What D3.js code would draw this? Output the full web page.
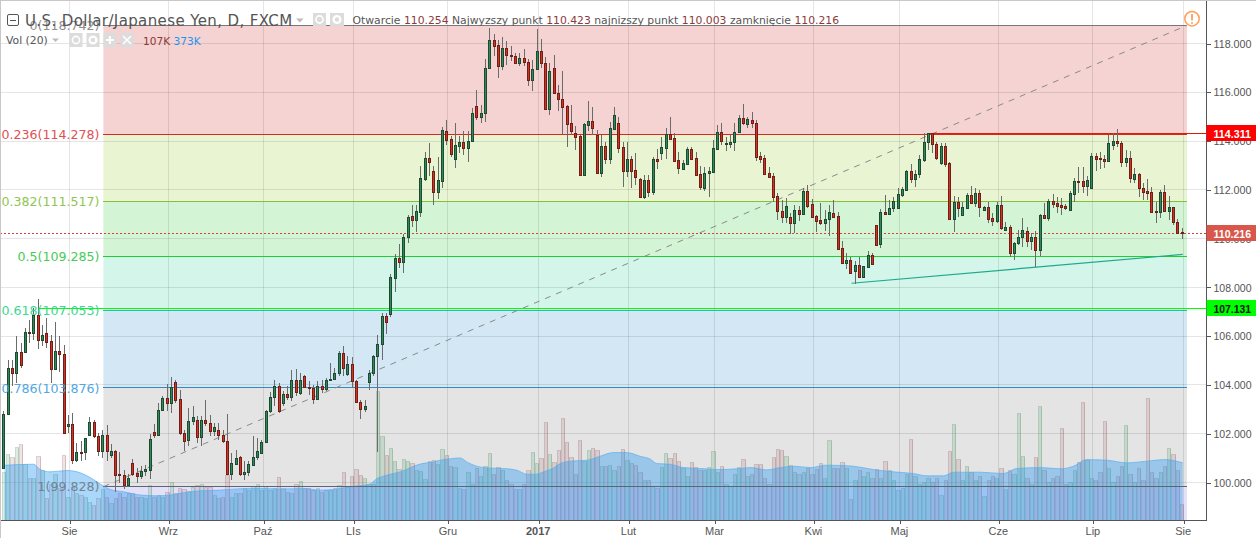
<!DOCTYPE html>
<html><head><meta charset="utf-8"><title>USD/JPY</title>
<script src="https://cdnjs.cloudflare.com/ajax/libs/d3/7.8.5/d3.min.js"></script>
<style>html,body{margin:0;padding:0;background:#fff;overflow:hidden}svg{display:block}</style>
</head><body><svg id="c" width="1256" height="538"></svg>
<script>
const opens=[
100.60,102.81,104.69,104.47,105.35,105.35,106.17,106.13,106.88,105.83,
106.13,105.80,104.65,105.39,105.27,102.31,102.40,100.91,101.27,101.26,
101.96,102.48,101.92,101.28,101.96,101.12,101.31,100.33,100.31,99.89,
100.80,100.37,100.26,100.46,100.53,102.07,101.94,102.96,103.48,103.25,
104.12,103.42,102.03,101.73,102.52,102.56,101.86,102.56,102.44,102.10,
102.16,101.96,101.71,100.34,100.75,101.05,100.34,100.42,100.72,101.04,
101.20,101.66,102.93,103.49,103.96,103.25,103.63,103.49,104.20,103.68,
104.38,103.92,103.87,103.44,103.96,103.82,104.19,104.23,104.47,105.31,
104.43,104.86,104.17,103.30,103.02,104.12,104.47,105.17,105.68,106.82,
106.90,108.40,109.20,109.06,110.08,110.93,110.76,111.11,112.46,113.29,
112.76,111.92,112.37,114.43,114.07,113.27,113.81,113.98,113.72,114.01,
115.43,114.99,115.16,117.00,118.16,117.95,117.08,117.83,117.54,117.50,
117.20,117.42,117.26,116.51,116.96,117.71,117.22,115.32,117.01,115.98,
115.73,115.42,114.72,114.31,114.19,112.62,114.65,114.84,114.24,112.70,
113.78,113.27,114.50,114.76,113.74,112.78,113.25,112.80,112.43,111.72,
112.39,111.92,113.25,113.52,113.72,114.27,114.11,113.21,112.87,113.07,
113.66,113.29,112.65,112.09,112.70,112.74,113.68,114.39,113.86,113.87,
113.97,114.38,114.93,114.69,114.88,114.76,113.38,113.29,112.67,112.55,
111.73,111.15,110.90,110.87,110.65,111.16,111.02,111.94,111.41,110.91,
110.75,110.65,110.79,111.04,110.91,109.60,108.98,109.11,108.69,108.91,
108.44,108.85,109.32,110.56,109.77,111.08,111.02,111.24,111.24,111.80,
112.01,112.77,112.46,112.63,113.22,113.97,114.31,113.87,113.10,113.78,
113.10,110.82,111.49,110.97,111.27,111.77,111.47,111.86,111.17,111.30,
110.83,110.74,111.36,110.36,110.46,109.39,109.80,110.05,110.30,109.90,
110.05,109.55,110.97,110.86,111.53,111.45,111.36,111.32,111.19,111.84,
112.36,112.36,112.17,112.09,113.38,113.29,113.26,113.19,113.85,114.02,
113.94,113.15,113.29,112.44,112.63,112.07,111.94,111.90,111.13,111.11,
111.90,111.15,111.28,110.68,110.254];
const highs=[
102.92,105.03,105.03,105.99,105.72,106.33,106.67,107.15,107.52,106.47,
106.74,106.06,106.58,105.99,105.65,102.78,102.85,101.62,101.69,101.83,
102.69,102.58,102.03,102.17,102.35,101.56,101.35,101.24,100.53,100.33,
100.98,100.60,100.67,100.70,101.99,102.41,103.26,103.53,104.05,104.32,
104.22,103.81,102.17,103.06,103.12,102.74,102.74,103.40,102.78,102.44,
102.44,102.17,102.82,101.21,101.35,101.10,100.87,100.87,101.90,101.83,
101.76,102.99,103.70,104.22,104.08,103.74,103.94,104.62,104.65,104.49,
104.42,104.15,104.01,104.15,104.22,104.28,104.90,104.69,105.40,105.58,
105.17,105.14,104.22,103.40,103.40,104.62,105.24,106.06,106.97,106.94,
108.55,109.37,109.78,110.19,110.96,111.38,111.38,112.97,113.55,113.93,
112.97,113.36,114.56,114.86,114.20,114.76,114.20,114.41,114.41,115.36,
116.11,115.47,117.38,118.65,118.40,118.13,118.27,118.09,117.89,117.61,
117.59,117.79,117.38,117.31,118.61,118.17,117.45,117.18,117.52,116.29,
116.86,115.47,115.47,114.61,114.24,114.75,115.63,115.38,114.45,114.24,
113.97,114.79,115.38,114.99,113.97,113.97,113.38,113.49,112.47,112.61,
112.61,113.33,113.66,114.18,114.53,114.97,114.31,113.56,113.22,113.77,
113.74,113.56,112.97,112.95,112.95,114.04,114.65,114.75,114.18,114.24,
114.75,115.06,115.50,114.99,115.20,114.88,113.56,113.42,112.95,112.70,
111.86,111.57,111.65,111.04,111.38,111.34,112.06,112.20,111.61,110.97,
111.45,111.17,111.38,111.58,111.10,109.90,109.40,109.26,109.09,109.26,
108.88,109.51,109.43,110.56,111.20,111.79,111.58,111.72,112.06,112.10,
112.81,113.06,112.81,113.42,114.34,114.35,114.35,113.97,113.90,113.90,
113.15,111.75,111.72,111.51,111.85,112.16,112.06,111.99,111.34,111.51,
111.06,111.49,111.75,110.70,110.56,109.88,110.36,110.86,110.49,110.22,
110.33,111.01,111.45,111.64,111.81,111.72,111.65,111.42,111.96,112.47,
112.95,112.95,112.57,113.49,113.49,113.56,113.42,114.24,114.31,114.48,
114.01,113.63,113.59,112.88,112.67,112.27,112.43,112.10,111.51,111.99,
112.20,111.75,111.31,110.79,110.423];
const lows=[
100.56,102.78,103.94,104.08,104.69,105.31,105.72,105.85,105.47,105.58,
105.51,104.08,104.62,104.52,102.03,102.03,100.74,100.83,100.87,100.94,
101.90,101.83,101.08,101.01,100.87,101.01,99.60,99.99,99.74,99.85,
100.26,99.99,100.15,100.26,100.15,101.83,101.90,102.92,102.95,102.85,
103.26,101.96,101.28,101.49,102.37,101.62,101.51,102.31,101.90,101.90,
101.76,101.62,100.34,100.12,100.72,100.26,100.12,100.26,100.67,100.94,
101.15,101.62,102.85,103.12,102.85,103.12,103.37,103.33,103.53,103.60,
103.87,103.60,103.23,103.40,103.67,103.74,104.15,104.22,104.35,104.35,
104.35,103.87,103.26,102.61,102.88,103.78,104.35,101.24,105.03,106.08,
106.77,107.83,108.81,108.61,109.84,110.49,110.29,110.90,112.37,112.56,
111.38,111.62,112.07,113.83,113.36,112.91,113.52,113.42,113.15,114.01,
114.88,114.75,114.79,117.00,117.48,116.59,116.93,117.11,117.28,117.18,
117.07,117.07,116.26,116.06,116.96,117.00,115.27,115.06,115.95,115.24,
114.28,113.77,114.24,113.63,112.62,112.62,114.42,114.24,112.70,112.54,
113.06,113.06,114.45,113.49,112.13,112.54,112.09,112.20,111.65,111.62,
111.72,111.79,112.85,113.22,113.25,114.08,113.15,112.65,112.81,113.06,
113.22,112.61,112.00,111.97,111.72,112.74,113.66,113.83,113.60,113.70,
113.60,114.38,114.65,114.52,114.54,113.19,113.08,112.61,112.50,111.51,
110.76,110.65,110.65,110.18,110.22,110.74,110.97,111.24,110.90,110.29,
110.56,110.31,110.12,110.87,109.59,108.96,108.76,108.55,108.14,108.38,
108.42,108.79,108.91,109.73,109.63,110.96,110.97,111.11,111.21,111.72,
111.99,112.27,112.13,112.47,113.15,113.63,113.49,113.22,113.02,112.95,
110.82,110.29,110.90,110.93,111.24,111.45,111.28,110.90,111.15,110.66,
110.52,110.63,110.36,110.33,109.26,109.13,109.74,109.67,109.67,109.54,
108.85,109.30,110.79,110.74,111.24,111.06,110.97,111.17,111.17,111.51,
111.86,111.86,111.75,112.06,112.78,112.84,112.88,113.15,113.63,113.77,
112.92,112.95,112.29,112.27,111.72,111.58,111.58,111.04,110.65,110.86,
111.11,110.76,110.56,110.18,110.003];
const closes=[
102.82,104.69,104.47,105.35,104.80,106.17,106.11,106.88,105.83,106.04,
105.78,104.65,105.39,105.27,102.03,102.40,100.91,101.26,101.24,101.83,
102.48,101.90,101.28,101.96,101.28,101.31,100.31,100.30,99.89,100.19,
100.35,100.26,100.48,100.56,101.79,101.94,102.99,103.48,103.25,103.92,
103.40,102.02,101.72,102.52,102.69,101.86,102.56,102.43,102.10,102.28,
101.94,101.69,100.34,100.78,101.02,100.34,100.45,100.74,101.05,101.30,
101.68,102.93,103.51,103.96,102.92,103.63,103.49,104.20,103.70,104.20,
103.90,103.86,103.44,103.97,103.82,104.20,104.24,104.49,105.32,104.68,
104.86,104.15,103.29,103.02,103.15,104.49,105.20,105.68,106.81,106.60,
108.42,109.20,109.06,110.08,110.87,110.76,111.12,112.47,113.29,113.15,
111.92,112.39,114.45,114.05,113.48,113.82,113.98,113.72,114.02,115.17,
114.99,115.17,117.01,118.16,117.90,117.08,117.83,117.53,117.49,117.20,
117.42,117.24,116.51,116.97,117.71,117.22,115.32,116.89,115.98,115.73,
115.40,114.71,114.42,114.18,112.62,114.68,114.84,114.54,112.70,113.78,
113.27,114.53,115.05,113.72,112.78,113.25,112.78,112.54,111.72,112.39,
111.92,113.25,113.19,113.75,114.27,114.09,113.19,112.91,113.08,113.66,
113.27,112.61,112.13,112.70,112.76,113.70,114.39,114.01,113.92,113.98,
114.39,114.93,114.73,114.90,114.75,113.36,113.27,112.66,112.54,111.72,
111.15,110.90,111.32,110.65,111.16,111.02,111.94,111.35,110.90,110.74,
110.65,110.79,111.08,110.90,109.59,108.98,109.11,108.57,108.91,108.44,
108.87,109.32,108.94,109.75,111.08,111.01,111.24,111.53,111.81,112.02,
112.77,112.46,112.63,113.25,113.97,114.31,113.86,113.32,113.79,113.06,
110.82,111.49,111.26,111.28,111.77,111.47,111.86,111.30,111.28,110.82,
110.74,111.36,110.45,110.46,109.39,109.81,110.05,110.34,109.90,110.05,
109.54,110.97,110.86,111.53,111.42,111.35,111.30,111.24,111.86,112.35,
112.33,112.17,112.40,113.37,113.27,113.25,113.19,113.90,114.02,113.92,
113.15,113.29,112.50,112.63,112.06,111.92,111.88,111.11,111.09,111.90,
111.13,111.28,110.70,110.23,110.216];
// volume in thousands
const volumes=[
314,429,412,477,494,368,271,271,416,325,
141,238,303,206,423,152,217,178,163,152,
119,98,141,199,152,108,141,173,152,173,
173,152,152,141,228,152,163,152,180,245,
173,206,199,191,217,228,234,217,217,163,
141,152,293,152,173,173,206,195,223,234,
195,221,195,206,282,206,184,173,238,254,
206,206,195,206,184,195,195,206,228,310,
217,286,332,293,271,232,234,839,546,423,
472,384,336,399,384,375,325,319,267,388,
394,364,466,427,355,347,212,199,316,234,
342,290,355,440,303,349,323,258,234,199,
199,234,323,446,375,407,641,433,381,459,
667,511,414,303,524,388,459,472,459,355,
355,362,329,355,466,394,375,362,316,264,
264,225,210,349,440,407,440,388,342,284,
381,349,323,323,349,453,310,355,232,225,
297,349,401,284,303,368,368,271,232,414,
466,459,420,362,316,303,310,342,303,336,
375,271,524,342,342,381,342,134,260,323,
284,310,271,336,271,388,323,258,193,210,
303,531,290,238,251,271,245,271,163,258,
453,628,401,258,355,316,258,284,154,264,
284,271,342,202,329,303,700,420,271,238,
414,745,329,245,271,290,602,232,245,323,
381,771,394,271,258,316,648,342,245,284,
355,622,303,245,342,258,797,316,277,316,
355,472,433,323,107];
// Vol(20) moving-average curve
const maIndex=[0,6.8,8.3,10.6,14.5,17.6,19.9,22.3,24.6,27.7,31.6,35.4,38.5,41.6,45.5,50.2,54.8,59.5,64.9,69.5,73.4,76.5,80.4,85,86.6,88.1,92,96.7,98.2,99.8,101.3,103.6,106,107.5,109.8,112.2,116,119.1,121.5,123.8,125.3,127.7,129.2,131.6,135.4,138.5,141.6,144.7,147.8,150.2,151.7,154.8,157.9,161.8,166.4,170.3,173.4,177.3,180.4,183.5,187.4,191.2,194.3,197.4,202.1,206.8,211.4,214.5,218.4,220.7,226.9,232.3,235.4,240.9,245.5,248.6,251.7,256.4,261,265.7,270,274];
const maValues=[357,364,329,314,323,308,277,234,199,184,163,158,163,178,191,195,204,206,202,206,195,199,217,234,271,286,314,365,373,379,390,399,405,379,351,340,336,325,299,299,314,340,368,384,390,416,440,440,416,397,368,364,342,336,329,334,342,327,342,351,342,358,356,351,329,314,303,288,288,312,312,303,336,342,334,351,394,390,373,384,394,373];

const fibLevels=[118.742,114.278,111.517,109.285,107.053,103.876,99.828];
const fibNames=["0","0.236","0.382","0.5","0.618","0.786","1"];
const fibText=["#8a8a8a","#e0484a","#8bc34a","#3dc94f","#2fd68f","#4aa3df","#6f7f8f"];
const fibLine=["#777777","#d9291c","#86bf3a","#1fcf2f","#18c9a0","#3a87c0","#5a6578"];
const fibFill=["#f4d3d2","#e9f4d3","#d4f4d6","#d3f5ea","#d3e8f4","#e4e4e4"];
const tickIndex=[15,38,60,81,103,124,145,165,188,208,231,253,274];
const tickLabels=["Sie","Wrz","Paź","LIs","Gru","2017","Lut","Mar","Kwi","Maj","Cze","Lip","Sie"];
const priceTicks=[100,102,104,106,108,110,112,114,116,118];
const fibStart=23,fibEnd=275;
const trendIndex=[197,274],trendPrice=[108.17,109.35];
const lastPrice=110.216,redRay=114.311,greenRay=107.131;
const redRayStart=215,greenRayStart=8;

const svg=d3.select("#c");
const x=d3.scaleLinear().domain([0,274]).range([4.5,1182.7]);
const y=d3.scaleLinear().domain([100,118]).range([482.5,43.5]);
const v=d3.scaleLinear().domain([0,107]).range([520,503.6]);
const chartR=1206.5,chartB=520.5,candleShift=-1.2;
const N=opens.length;
const crisp=p=>Math.floor(y(p))+.5;
const sans="'Liberation Sans',Arial,sans-serif",dj="'DejaVu Sans',Verdana,sans-serif";

// fib zones
const zones=svg.append("g");
fibFill.forEach((f,i)=>zones.append("rect").attr("x",x(fibStart)).attr("width",x(fibEnd)-x(fibStart))
  .attr("y",y(fibLevels[i])).attr("height",y(fibLevels[i+1])-y(fibLevels[i])).attr("fill",f));
zones.append("rect").attr("x",x(fibStart)).attr("width",x(fibEnd)-x(fibStart)).attr("y",y(99.828)).attr("height",chartB-y(99.828)).attr("fill","#e4e0f8");

// grid
const grid=svg.append("g").attr("stroke","rgba(0,0,0,0.1)").attr("shape-rendering","crispEdges");
tickIndex.forEach(t=>grid.append("line").attr("x1",Math.round(x(t))+.5).attr("x2",Math.round(x(t))+.5).attr("y1",0).attr("y2",chartB));
priceTicks.forEach(p=>grid.append("line").attr("x1",0).attr("x2",chartR).attr("y1",crisp(p)).attr("y2",crisp(p)));

// volume: adjoining columns
const volL=i=>Math.floor(x(i)-2.15);
svg.append("g").attr("shape-rendering","crispEdges").selectAll("rect").data(volumes).join("rect")
  .attr("x",(d,i)=>volL(i)+.5).attr("width",(d,i)=>volL(i+1)-volL(i)-1).attr("y",d=>Math.round(v(d))+.5).attr("height",d=>520-Math.round(v(d)))
  .attr("fill",(d,i)=>closes[i]>=opens[i]?"rgba(90,165,105,0.2)":"rgba(165,95,95,0.17)")
  .attr("stroke",(d,i)=>closes[i]>=opens[i]?"rgba(70,140,95,0.3)":"rgba(130,75,85,0.27)");

// MA area
const maPts=maIndex.map((m,i)=>[m,maValues[i]]);
svg.append("path").datum(maPts).attr("fill","rgba(33,150,243,0.38)")
  .attr("d",d3.area().x(d=>x(d[0])).y0(v(0)).y1(d=>v(d[1])).curve(d3.curveMonotoneX));
svg.append("path").datum(maPts).attr("fill","none").attr("stroke","rgba(90,175,240,0.7)").attr("stroke-width",1)
  .attr("d",d3.line().x(d=>x(d[0])).y(d=>v(d[1])).curve(d3.curveMonotoneX));

// fib level lines
fibLevels.forEach((l,i)=>svg.append("line").attr("x1",x(fibStart)).attr("x2",x(fibEnd))
  .attr("y1",crisp(l)).attr("y2",crisp(l)).attr("stroke",fibLine[i]).attr("stroke-width",1).attr("shape-rendering","crispEdges"));

// diagonal
svg.append("line").attr("x1",x(fibStart)).attr("y1",y(fibLevels[6])).attr("x2",x(fibEnd)).attr("y2",y(fibLevels[0]))
  .attr("stroke","#8a8a8a").attr("stroke-width",1).attr("stroke-dasharray","6,6");

// trend
svg.append("line").attr("x1",x(trendIndex[0])).attr("y1",y(trendPrice[0])).attr("x2",x(trendIndex[1])).attr("y2",y(trendPrice[1]))
  .attr("stroke","#1ea98c").attr("stroke-width",1.2);

// rays
svg.append("line").attr("x1",x(redRayStart)).attr("x2",chartR).attr("y1",crisp(redRay)).attr("y2",crisp(redRay)).attr("stroke","#e0190f").attr("shape-rendering","crispEdges");
svg.append("line").attr("x1",x(greenRayStart)).attr("x2",chartR).attr("y1",crisp(greenRay)).attr("y2",crisp(greenRay)).attr("stroke","#00ff00").attr("shape-rendering","crispEdges");
svg.append("line").attr("x1",0).attr("x2",chartR).attr("y1",crisp(lastPrice)).attr("y2",crisp(lastPrice)).attr("stroke","#c8473c").attr("stroke-dasharray","2,2").attr("shape-rendering","crispEdges");

// candles
const cg=svg.append("g").attr("shape-rendering","crispEdges");
d3.range(N).forEach(i=>{
  const cx=Math.round(x(i)+candleShift);
  const up=closes[i]>=opens[i];
  cg.append("line").attr("x1",cx+.5).attr("x2",cx+.5).attr("y1",y(highs[i])).attr("y2",y(lows[i])).attr("stroke","#6b6b6b");
  const t=Math.round(y(Math.max(opens[i],closes[i]))),b=Math.round(y(Math.min(opens[i],closes[i])));
  cg.append("rect").attr("x",cx-.5).attr("width",2).attr("y",t+.5).attr("height",Math.max(b-t,1))
    .attr("fill",up?"#2f8a5b":"#d8301f").attr("stroke",up?"#1d4a30":"#6e2018");
});

// axes
const ax=svg.append("g").attr("transform",`translate(0,${chartB})`)
  .call(d3.axisBottom(x).tickValues(tickIndex).tickSize(3).tickPadding(4).tickFormat((d,i)=>tickLabels[i]));
ax.select(".domain").remove();
ax.selectAll("line").attr("stroke","#555").attr("shape-rendering","crispEdges").attr("transform",d=>`translate(${Math.round(x(d))+.5-x(d)},0)`);
ax.selectAll("text").attr("font-family",sans).attr("font-size",11).attr("fill","#555").attr("y",7).attr("dy","0.71em")
  .attr("font-weight",(d,i)=>tickLabels[i]==="2017"?"bold":"normal");
const ay=svg.append("g").attr("transform",`translate(${chartR},0)`)
  .call(d3.axisRight(y).tickValues(priceTicks).tickSize(4).tickPadding(3).tickFormat(d3.format(".3f")));
ay.select(".domain").remove();
ay.selectAll("line").attr("stroke","#555").attr("shape-rendering","crispEdges");
ay.selectAll("text").attr("font-family",sans).attr("font-size",11.5).attr("fill","#555").attr("textLength",38).attr("lengthAdjust","spacingAndGlyphs");
svg.append("line").attr("x1",0).attr("x2",chartR).attr("y1",chartB).attr("y2",chartB).attr("stroke","#555").attr("shape-rendering","crispEdges");
svg.append("line").attr("x1",chartR).attr("x2",chartR).attr("y1",0).attr("y2",chartB).attr("stroke","#555").attr("shape-rendering","crispEdges");
// outer border
svg.append("line").attr("x1",0).attr("x2",1256).attr("y1",.5).attr("y2",.5).attr("stroke","#c8c8c8");
svg.append("line").attr("x1",.5).attr("x2",.5).attr("y1",0).attr("y2",538).attr("stroke","#c8c8c8");

// price badges
[[redRay,"#ff0000","#fff"],[lastPrice,"#d9574a","#fff"],[greenRay,"#00ff00","#111"]].forEach(([p,bg,fg])=>{
  const py=Math.floor(y(p));
  svg.append("rect").attr("x",chartR).attr("y",py-8).attr("width",50).attr("height",16).attr("fill",bg);
  svg.append("text").attr("x",1213.5).attr("y",py+4.5).attr("font-family",sans).attr("font-size",11.5).attr("font-weight","bold").attr("fill",fg)
    .attr("textLength",37.5).attr("lengthAdjust","spacingAndGlyphs").text(d3.format(".3f")(p));
});

// fib labels
fibLevels.forEach((l,i)=>svg.append("text").attr("x",99.5).attr("y",y(l)+4.7).attr("text-anchor","end")
  .attr("font-family",dj).attr("font-size",12.6).attr("fill",fibText[i]).attr("opacity",.95).text(`${fibNames[i]}(${l.toFixed(3)})`));

// legend
const glyphBox=(gx,gy0,w,h,kind)=>{
  svg.append("rect").attr("x",gx).attr("y",gy0).attr("width",w).attr("height",h).attr("fill","#dcdcdc");
  const cxx=gx+w/2,cyy=gy0+h/2;
  if(kind==="eye"){svg.append("circle").attr("cx",cxx).attr("cy",cyy).attr("r",3.6).attr("fill","none").attr("stroke","#fff").attr("stroke-width",1.6);}
  if(kind==="gear"){svg.append("circle").attr("cx",cxx).attr("cy",cyy).attr("r",3.4).attr("fill","none").attr("stroke","#fff").attr("stroke-width",2.4);}
  if(kind==="plus"){svg.append("path").attr("d",`M${cxx-4},${cyy}H${cxx+4}M${cxx},${cyy-4}V${cyy+4}`).attr("stroke","#fff").attr("stroke-width",2);}
  if(kind==="x"){svg.append("path").attr("d",`M${cxx-4},${cyy-4}L${cxx+4},${cyy+4}M${cxx+4},${cyy-4}L${cxx-4},${cyy+4}`).attr("stroke","#fff").attr("stroke-width",1.6);}
};
svg.append("rect").attr("x",7.5).attr("y",14.5).attr("width",11).attr("height",11).attr("rx",1.5).attr("fill","none").attr("stroke","#555");
svg.append("line").attr("x1",10).attr("x2",16).attr("y1",20.5).attr("y2",20.5).attr("stroke","#555");
svg.append("text").attr("x",25).attr("y",25.5).attr("font-family",dj).attr("font-size",15).attr("letter-spacing",.38).attr("fill","#555").text("U.S. Dollar/Japanese Yen, D, FXCM");
svg.append("path").attr("d","M296,18.5h7.5l-3.75,4z").attr("fill","#bbb");
glyphBox(313,13,13,13,"eye");glyphBox(330,13,14,13,"gear");
const leg=svg.append("text").attr("x",352.5).attr("y",24).attr("font-family",dj).attr("font-size",10.8);
[["Otwarcie ","#555"],["110.254 ","#8b3a3a"],["Najwyzszy punkt ","#555"],["110.423 ","#8b3a3a"],["najnizszy punkt ","#555"],["110.003 ","#8b3a3a"],["zamknięcie ","#555"],["110.216","#8b3a3a"]]
 .forEach(([t,c])=>leg.append("tspan").attr("fill",c).text(t));
svg.append("text").attr("x",6).attr("y",44).attr("font-family",dj).attr("font-size",10.8).attr("fill","#555").text("Vol (20)");
svg.append("path").attr("d","M52,38.5h7l-3.5,3.5z").attr("fill","#bbb");
glyphBox(69.5,33,13,14,"eye");glyphBox(86.5,33,13,14,"gear");glyphBox(103.5,33,13,14,"plus");glyphBox(120.5,33,13,14,"x");
svg.append("text").attr("x",143).attr("y",45).attr("font-family",dj).attr("font-size",10.6).attr("fill","#8b3a3a").text("107K");
svg.append("text").attr("x",173.5).attr("y",45).attr("font-family",dj).attr("font-size",10.6).attr("fill","#2196f3").text("373K");

// warning
svg.append("circle").attr("cx",1192).attr("cy",18.7).attr("r",7.2).attr("fill","#fff").attr("stroke","#ff9f5a").attr("stroke-width",1.5);
svg.append("line").attr("x1",1192).attr("x2",1192).attr("y1",14).attr("y2",20.5).attr("stroke","#ff9f5a").attr("stroke-width",1.8);
svg.append("circle").attr("cx",1192).attr("cy",23).attr("r",1).attr("fill","#ff9f5a");
</script></body></html>
